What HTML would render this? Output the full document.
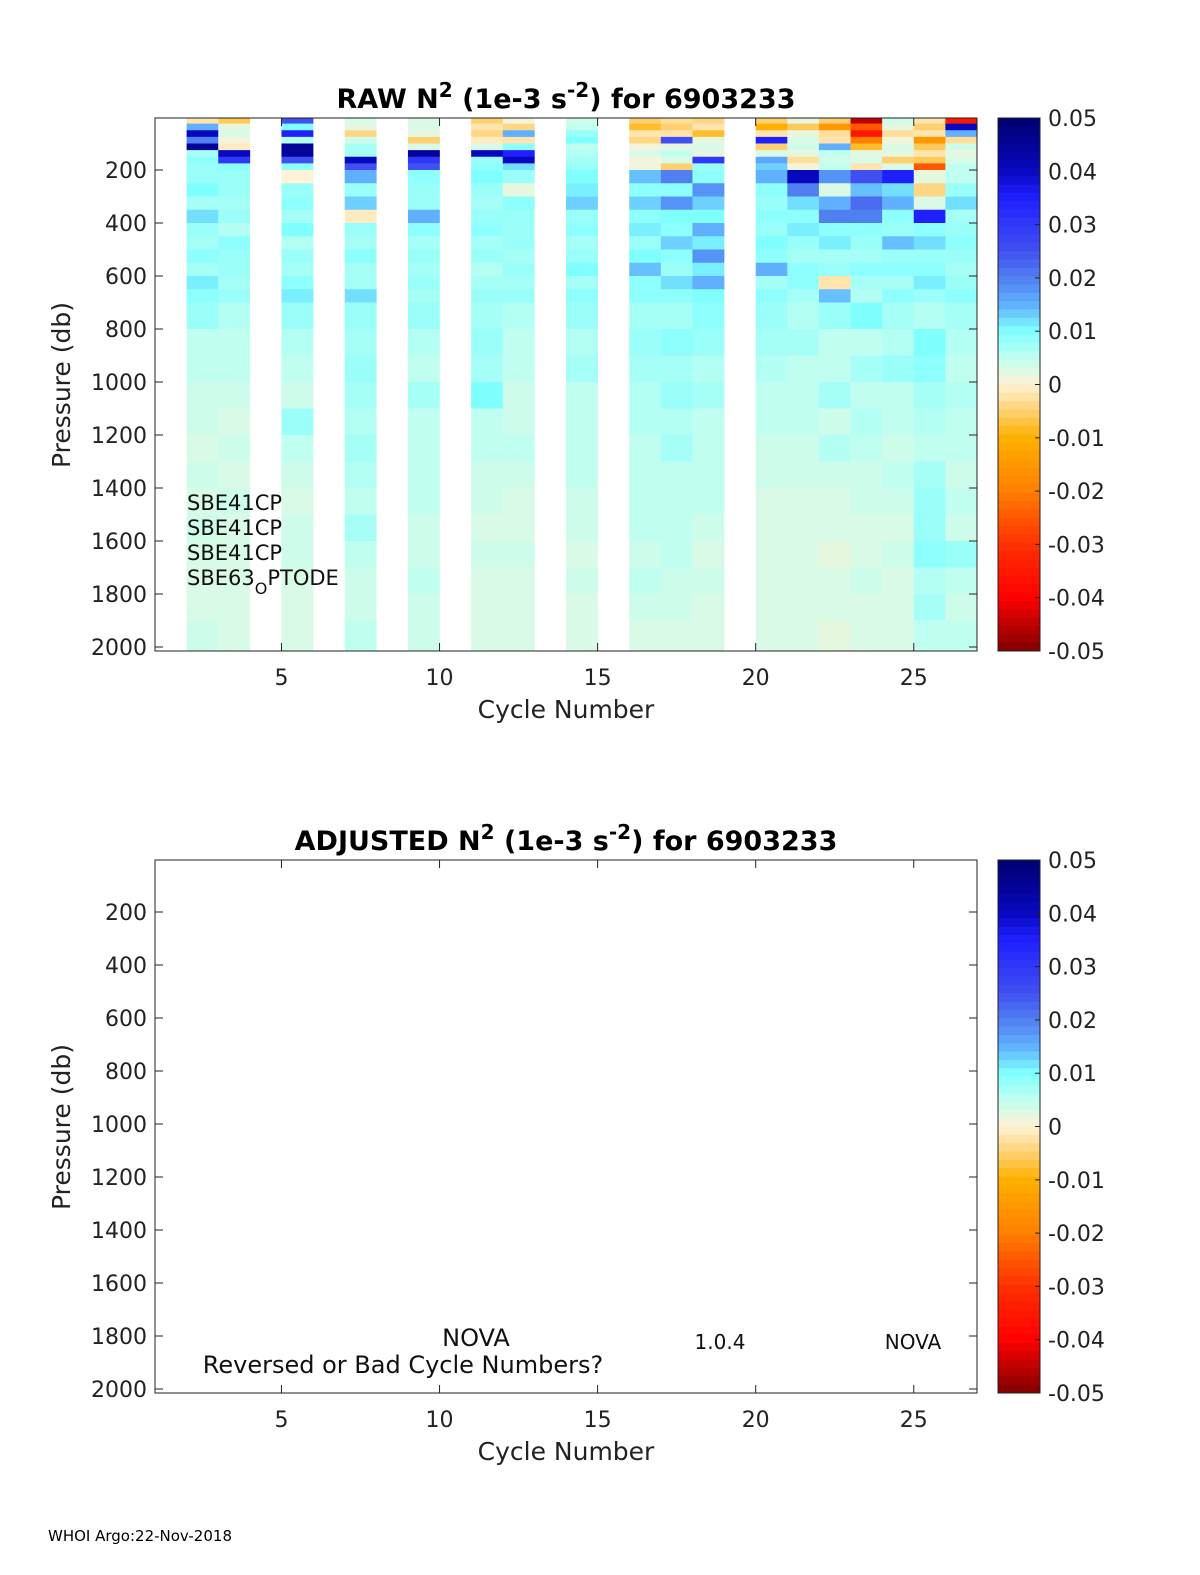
<!DOCTYPE html>
<html><head><meta charset="utf-8"><style>
body{margin:0;background:#fff;}
svg{display:block;font-family:"DejaVu Sans","Liberation Sans",sans-serif;}
</style></head><body>
<svg id="fig" width="1200" height="1575" viewBox="0 0 1200 1575">
<g id="top"></g>
<g id="bot"></g>
<text x="48" y="1541" font-size="15">WHOI Argo:22-Nov-2018</text>
</svg>
<script>
const pEdges=[5,25,50,75,100,125,150,175,200,250,300,350,400,450,500,550,600,650,700,800,900,1000,1100,1200,1300,1400,1500,1600,1700,1800,1900,2015];
const cycles=[2,3,5,7,9,11,12,14,16,17,18,20,21,22,23,24,25,26];
const n2Values=[
[-0.002,0.015,0.04,0.02,0.045,0.007,0.009,0.008,0.008,0.010,0.007,0.012,0.008,0.007,0.009,0.007,0.011,0.009,0.008,0.005,0.005,0.004,0.004,0.003,0.004,0.003,0.004,0.003,0.003,0.003,0.004],
[-0.006,0.002,0.003,0.001,-0.001,0.04,0.03,0.009,0.008,0.008,0.007,0.008,0.006,0.009,0.008,0.008,0.007,0.008,0.006,0.005,0.005,0.004,0.003,0.004,0.003,0.004,0.003,0.003,0.003,0.003,0.003],
[0.025,0.01,0.035,0.006,0.045,0.045,0.025,0.009,0.0,0.008,0.009,0.007,0.01,0.006,0.008,0.007,0.009,0.011,0.008,0.006,0.005,0.004,0.008,0.005,0.004,0.003,0.004,0.004,0.003,0.003,0.003],
[0.003,0.002,-0.004,0.004,0.007,0.007,0.04,0.025,0.015,0.008,0.013,-0.001,0.008,0.007,0.009,0.007,0.007,0.012,0.008,0.007,0.008,0.007,0.006,0.007,0.006,0.005,0.007,0.005,0.004,0.004,0.005],
[0.003,0.003,0.002,-0.005,0.003,0.045,0.03,0.025,0.009,0.008,0.008,0.015,0.009,0.007,0.008,0.007,0.008,0.007,0.008,0.006,0.005,0.007,0.005,0.005,0.005,0.005,0.004,0.004,0.005,0.004,0.004],
[-0.005,-0.002,-0.004,-0.001,0.003,0.04,0.008,0.009,0.01,0.008,0.007,0.008,0.009,0.007,0.008,0.006,0.007,0.008,0.007,0.008,0.007,0.01,0.005,0.005,0.004,0.004,0.003,0.004,0.003,0.003,0.003],
[0.001,-0.004,0.015,-0.002,0.009,0.035,0.04,0.012,0.008,0.002,0.009,0.008,0.008,0.008,0.007,0.008,0.007,0.008,0.006,0.005,0.005,0.004,0.004,0.005,0.004,0.003,0.003,0.004,0.003,0.003,0.003],
[0.004,0.005,0.008,0.01,0.005,0.006,0.007,0.008,0.01,0.011,0.013,0.008,0.009,0.007,0.008,0.01,0.007,0.009,0.008,0.006,0.007,0.005,0.005,0.005,0.005,0.004,0.004,0.003,0.004,0.003,0.003],
[-0.005,-0.008,-0.002,-0.004,0.001,0.003,0.001,0.001,0.014,0.009,0.013,0.009,0.011,0.008,0.01,0.014,0.009,0.009,0.007,0.008,0.007,0.006,0.006,0.005,0.005,0.005,0.005,0.004,0.005,0.004,0.003],
[-0.003,-0.005,-0.002,0.025,0.002,0.005,0.003,-0.005,0.02,0.009,0.018,0.01,0.009,0.013,0.009,0.008,0.012,0.009,0.007,0.009,0.007,0.008,0.006,0.007,0.005,0.005,0.005,0.005,0.004,0.004,0.003],
[-0.004,-0.002,-0.008,0.002,0.003,0.002,0.03,0.008,0.009,0.018,0.013,0.01,0.015,0.011,0.018,0.011,0.015,0.01,0.009,0.008,0.006,0.007,0.005,0.005,0.005,0.005,0.004,0.003,0.004,0.003,0.003],
[-0.005,-0.01,-0.002,0.035,-0.005,0.003,0.016,0.013,0.015,0.009,0.008,0.009,0.008,0.01,0.009,0.015,0.007,0.009,0.008,0.007,0.006,0.005,0.005,0.004,0.004,0.003,0.003,0.003,0.003,0.003,0.003],
[0.002,-0.006,0.002,0.003,0.004,0.002,-0.003,0.001,0.04,0.02,0.012,0.009,0.011,0.008,0.007,0.009,0.009,0.007,0.006,0.007,0.005,0.005,0.005,0.004,0.004,0.003,0.003,0.003,0.003,0.003,0.003],
[-0.005,-0.015,-0.003,-0.002,0.015,0.005,0.004,0.005,0.018,0.003,0.015,0.02,0.009,0.011,0.007,0.008,-0.002,0.014,0.008,0.005,0.005,0.007,0.004,0.006,0.004,0.003,0.003,0.002,0.003,0.003,0.002],
[-0.045,-0.025,-0.035,-0.02,-0.008,0.002,0.003,-0.002,0.025,0.014,0.022,0.02,0.009,0.008,0.007,0.009,0.007,0.006,0.01,0.005,0.007,0.005,0.006,0.005,0.004,0.004,0.003,0.003,0.004,0.003,0.003],
[0.004,0.002,-0.003,0.001,0.003,0.002,-0.005,0.003,0.035,0.012,0.015,0.009,0.008,0.014,0.008,0.009,0.007,0.009,0.007,0.006,0.008,0.005,0.005,0.004,0.005,0.004,0.003,0.004,0.003,0.003,0.003],
[-0.002,-0.005,-0.002,-0.015,-0.006,-0.002,-0.006,-0.025,0.002,-0.004,0.003,0.035,0.009,0.012,0.008,0.009,0.011,0.008,0.006,0.01,0.009,0.007,0.006,0.005,0.007,0.008,0.008,0.009,0.006,0.007,0.005],
[-0.035,0.04,0.015,-0.003,0.004,0.002,0.003,0.005,0.005,0.008,0.012,0.007,0.008,0.009,0.008,0.007,0.008,0.009,0.007,0.006,0.005,0.006,0.005,0.005,0.004,0.005,0.004,0.008,0.005,0.004,0.005]
];
const xTicks=[5,10,15,20,25];
const yTicks=[200,400,600,800,1000,1200,1400,1600,1800,2000];
const cbTicks=[0.05,0.04,0.03,0.02,0.01,0,-0.01,-0.02,-0.03,-0.04,-0.05];
const cbLabels=["0.05","0.04","0.03","0.02","0.01","0","-0.01","-0.02","-0.03","-0.04","-0.05"];

const NS="http://www.w3.org/2000/svg";
const cmap=[[-0.05,[128,0,0]],[-0.04,[255,0,0]],[-0.03,[255,48,0]],[-0.02,[255,128,0]],[-0.01,[255,176,0]],[-0.005,[255,208,112]],[0,[255,242,214]],[0.005,[192,255,240]],[0.01,[128,255,255]],[0.015,[96,176,255]],[0.02,[80,128,240]],[0.025,[64,80,240]],[0.035,[32,32,255]],[0.04,[8,8,192]],[0.05,[0,0,112]]];
function color(v){v=Math.max(-0.05,Math.min(0.05,v));
 for(let i=0;i<cmap.length-1;i++){const a=cmap[i],b=cmap[i+1];if(v<=b[0]){const t=(v-a[0])/(b[0]-a[0]);
  return 'rgb('+a[1].map((c,k)=>Math.round(c+t*(b[1][k]-c))).join(',')+')';}}
 return 'rgb(0,0,112)';}
function mk(tag,attrs,parent,txt){const e=document.createElementNS(NS,tag);for(const k in attrs)e.setAttribute(k,attrs[k]);if(txt!==undefined)e.textContent=txt;parent.appendChild(e);return e;}

function panel(g,top,title,isRaw){
 const L=155,R=977,B=top+533;
 const xs=c=>L+(c-1)*(R-L)/26;
 const ys=p=>top-1+p*0.265;
 if(isRaw){
  cycles.forEach((c,ci)=>{
   const vals=n2Values[ci];
   for(let i=0;i<vals.length;i++){
    const r=mk('rect',{x:xs(c),y:ys(pEdges[i]),width:xs(c+1)-xs(c)+0.3,height:ys(pEdges[i+1])-ys(pEdges[i])+0.3,fill:color(vals[i])},g);
    
    
   }
  });
 }
 const box=mk('rect',{x:L,y:top,width:R-L,height:B-top,fill:'none',stroke:'#222','stroke-width':1},g);
 
 
 xTicks.forEach(t=>{
  const x=xs(t);
  mk('line',{x1:x,x2:x,y1:B,y2:B-8,stroke:'#222'},g);
  mk('line',{x1:x,x2:x,y1:top,y2:top+8,stroke:'#222'},g);
  const tx=mk('text',{x:x,y:B+34,'font-size':22,'text-anchor':'middle',fill:'#222'},g,String(t));
  
  
 });
 yTicks.forEach(t=>{
  const y=ys(t);
  mk('line',{x1:L,x2:L+8,y1:y,y2:y,stroke:'#222'},g);
  mk('line',{x1:R,x2:R-8,y1:y,y2:y,stroke:'#222'},g);
  const tx=mk('text',{x:L-8,y:y+8,'font-size':22,'text-anchor':'end',fill:'#222'},g,String(t));
  
  
 });
 const xl=mk('text',{x:566,y:B+67,'font-size':25,'text-anchor':'middle',fill:'#222'},g,'Cycle Number');
 
 
 const yl=mk('text',{x:0,y:0,'font-size':25,'text-anchor':'middle',fill:'#222',transform:'translate(70,'+(top+267)+') rotate(-90)'},g,'Pressure (db)');
 
 
 const tt=mk('text',{x:566,y:top-10,'font-size':27,'font-weight':'bold','text-anchor':'middle',fill:'#000'},g);
 
 
 mk('tspan',{},tt,title+' N');
 mk('tspan',{dy:-11,'font-size':20},tt,'2');
 mk('tspan',{dy:11},tt,' (1e-3 s');
 mk('tspan',{dy:-11,'font-size':20},tt,'-2');
 mk('tspan',{dy:11},tt,') for 6903233');
 const CL=998,CR=1040;
 const cy=v=>top+(0.05-v)/0.1*(B-top);
 for(let i=0;i<64;i++){
  const v1=0.05-i*0.1/64,v2=v1-0.1/64;
  mk('rect',{x:CL,y:cy(v1),width:CR-CL,height:cy(v2)-cy(v1)+0.5,fill:color((v1+v2)/2)},g);
 }
 const cb=mk('rect',{x:CL,y:top,width:CR-CL,height:B-top,fill:'none',stroke:'#222'},g);
 
 
 cbTicks.forEach((t,i)=>{
  const y=cy(t);
  mk('line',{x1:CR,x2:CR-5,y1:y,y2:y,stroke:'#222'},g);
  const tx=mk('text',{x:CR+8,y:y+8,'font-size':22,fill:'#222'},g,cbLabels[i]);
  
  
 });
 return {xs,ys};
}
const gt=document.getElementById('top');
panel(gt,118,'RAW',true);
const sensors=['SBE41CP','SBE41CP','SBE41CP'];
sensors.forEach((s,i)=>{
 const t=mk('text',{x:187,y:510+i*25,'font-size':21,fill:'#111'},gt,s);
 
 
});
const opt=mk('text',{x:187,y:585,'font-size':21,fill:'#111'},gt);


mk('tspan',{},opt,'SBE63');
mk('tspan',{dy:9,'font-size':16},opt,'O');
mk('tspan',{dy:-9},opt,'PTODE');

const gb=document.getElementById('bot');
panel(gb,860,'ADJUSTED',false);
[['NOVA',476,1346,24,'middle'],['Reversed or Bad Cycle Numbers?',403,1373,24,'middle'],['1.0.4',720,1349,20,'middle'],['NOVA',913,1349,20,'middle']].forEach(a=>{
 const t=mk('text',{x:a[1],y:a[2],'font-size':a[3],'text-anchor':a[4],fill:'#111'},gb,a[0]);
 
 
});
</script>
</body></html>
